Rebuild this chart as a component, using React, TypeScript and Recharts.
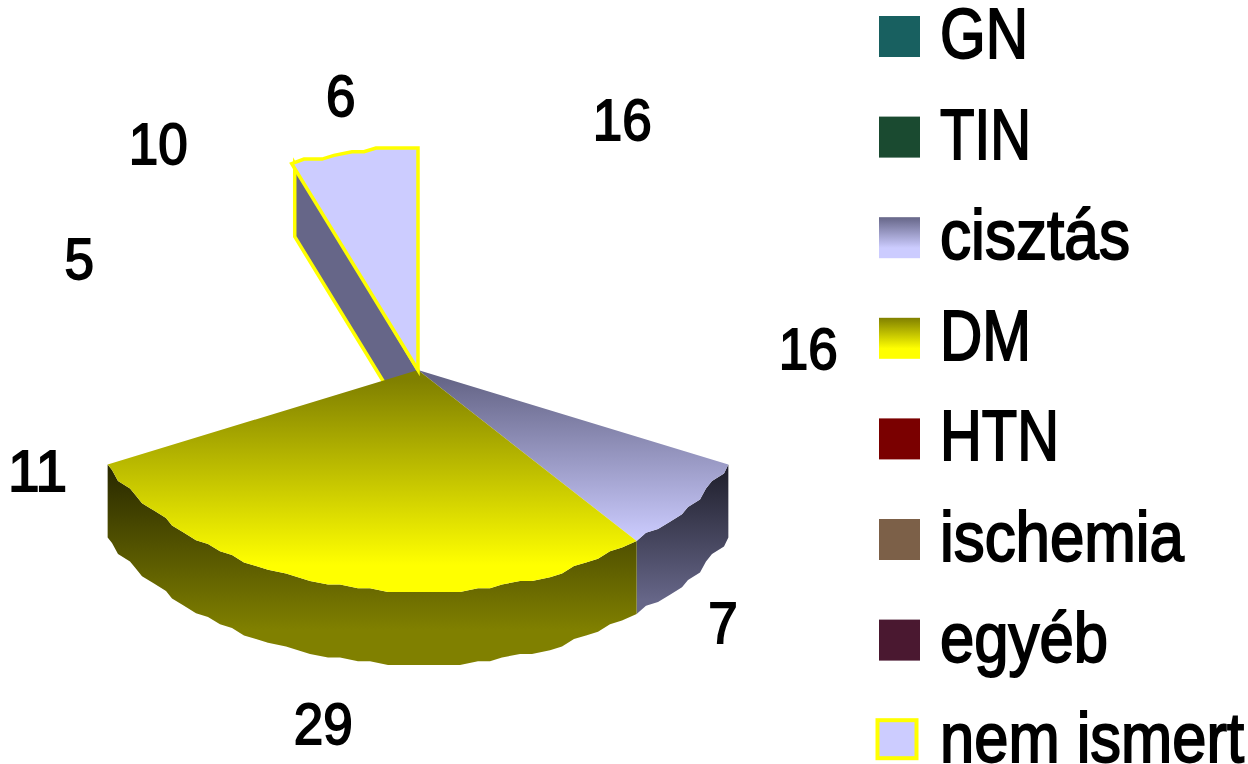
import { Legend, Pie, PieChart } from "recharts";

const categories = ["GN", "TIN", "cisztás", "DM", "HTN", "ischemia", "egyéb", "nem ismert"];
const shares = [16, 16, 7, 29, 11, 5, 10, 6];
const swatchFills = [
  "#186060",
  "#1a4a30",
  "url(#cystSwatch)",
  "url(#dmSwatch)",
  "#7a0000",
  "#7c6048",
  "#4a1830",
  "#ccccff",
];
// Only these three sectors are painted; the others keep just their label and legend row.
const paintedSlices = ["cisztás", "DM", "nem ismert"];
// Where each value label sits relative to the rim point of its sector.
const labelNudges = [
  [39, -54],
  [48, -6],
  [34, 118],
  [-20, 138],
  [-39, 81],
  [-24, -22],
  [-41, -54],
  [-13, -55],
];
// Rendered widths of the condensed legend text.
const legendTextWidths = [88, 91, 190, 91, 119, 244, 168, 304];

const data = categories.map((name, i) => ({ name, value: shares[i] }));

const CENTER_X = 418;
const CENTER_Y = 370;
const RADIUS = 343;
const SQUASH = 222 / 343;
const DEPTH = 73;
const GRID_X = 6;
const GRID_Y = 3.7;
const FONT = '"Liberation Sans", Arial, sans-serif';

const rimAt = (deg: number) => {
  const rad = ((90 - deg) * Math.PI) / 180;
  return [CENTER_X + RADIUS * Math.cos(rad), CENTER_Y - RADIUS * SQUASH * Math.sin(rad)];
};

// The outer edge is snapped to a coarse grid, which gives it its stepped outline.
const rimPoints = (from: number, to: number) => {
  const pts = [rimAt(from)];
  for (let d = from + 2.5; d < to - 1; d += 2.5) {
    const [x, y] = rimAt(d);
    const snapped = [
      CENTER_X + Math.round((x - CENTER_X) / GRID_X) * GRID_X,
      CENTER_Y + Math.round((y - CENTER_Y) / GRID_Y) * GRID_Y,
    ];
    const last = pts[pts.length - 1];
    if (snapped[0] !== last[0] || snapped[1] !== last[1]) pts.push(snapped);
  }
  pts.push(rimAt(to));
  return pts;
};

const toPoints = (pts: number[][]) => pts.map((p) => `${p[0]},${p[1]}`).join(" ");

const sweep = (props: any) => {
  const a = 90 - props.startAngle;
  const b = 90 - props.endAngle;
  return [Math.min(a, b), Math.max(a, b)];
};

// The cut face of the unknown slice sits behind the DM top, so it gets its own layer.
const CutFace = (props: any) => {
  if (props.name !== "nem ismert") return <g />;
  const [from] = sweep(props);
  const corner = rimAt(from);
  return (
    <polygon
      points={toPoints([
        [corner[0] + 3, corner[1]],
        [corner[0] + 3, corner[1] + DEPTH],
        [CENTER_X + 3, CENTER_Y + DEPTH],
        [CENTER_X, CENTER_Y],
      ])}
      fill="#666688"
      stroke="#ffff00"
      strokeWidth={3.5}
    />
  );
};

const Slice = (props: any) => {
  if (!paintedSlices.includes(props.name)) return <g />;
  const [from, to] = sweep(props);
  const rim = rimPoints(from, to);
  const top = toPoints([[CENTER_X, CENTER_Y], ...rim]);

  if (props.name === "nem ismert") {
    return <polygon points={top} fill="#ccccff" stroke="#ffff00" strokeWidth={3.5} />;
  }

  const wall = toPoints([
    ...rim,
    ...[...rim].reverse().map((p) => [p[0], p[1] + DEPTH]),
  ]);
  const isDm = props.name === "DM";
  return (
    <g>
      <polygon points={wall} fill={isDm ? "url(#dmWall)" : "url(#cystWall)"} />
      <polygon points={top} fill={isDm ? "url(#dmTop)" : "url(#cystTop)"} />
    </g>
  );
};

const renderValue = (props: any) => {
  const [x, y] = rimAt(90 - props.midAngle);
  const [dx, dy] = labelNudges[props.index];
  return (
    <text
      x={x + dx}
      y={y + dy + 19}
      textAnchor="middle"
      fontFamily={FONT}
      fontSize={58}
      textLength={String(props.value).length * 29.5}
      lengthAdjust="spacingAndGlyphs"
      fill="#000"
      stroke="#000"
      strokeWidth={1.8}
    >
      {props.value}
    </text>
  );
};

const legendRows = () => (
  <svg width={1248} height={764} style={{ display: "block" }}>
    {categories.map((name, i) => {
      const y = 16 + i * 100.6;
      const boxed = name === "nem ismert";
      return (
        <g key={name}>
          <rect
            x={boxed ? 877.5 : 879}
            y={y}
            width={boxed ? 39 : 41}
            height={boxed ? 38 : 41}
            fill={swatchFills[i]}
            stroke={boxed ? "#ffff00" : "none"}
            strokeWidth={boxed ? 4 : 0}
          />
          <text
            x={940}
            y={y + 42}
            fontFamily={FONT}
            fontSize={70}
            textLength={legendTextWidths[i]}
            lengthAdjust="spacingAndGlyphs"
            fill="#000"
            stroke="#000"
            strokeWidth={1.9}
          >
            {name}
          </text>
        </g>
      );
    })}
  </svg>
);

export default function App() {
  return (
    <div style={{ position: "absolute", left: 0, top: 0, width: 1248, height: 764, background: "#fff" }}>
      <PieChart width={1248} height={764} margin={{ top: 0, right: 0, bottom: 0, left: 0 }}>
        <defs>
          <linearGradient id="dmTop" gradientUnits="userSpaceOnUse" x1="0" y1="380" x2="0" y2="565">
            <stop offset="0" stopColor="#808000" />
            <stop offset="1" stopColor="#ffff00" />
          </linearGradient>
          <linearGradient id="dmWall" gradientUnits="userSpaceOnUse" x1="0" y1="463" x2="0" y2="630">
            <stop offset="0" stopColor="#262600" />
            <stop offset="1" stopColor="#808000" />
          </linearGradient>
          <linearGradient id="cystTop" gradientUnits="userSpaceOnUse" x1="0" y1="380" x2="0" y2="540">
            <stop offset="0" stopColor="#666688" />
            <stop offset="1" stopColor="#ccccff" />
          </linearGradient>
          <linearGradient id="cystWall" gradientUnits="userSpaceOnUse" x1="0" y1="463" x2="0" y2="600">
            <stop offset="0" stopColor="#1c1c28" />
            <stop offset="1" stopColor="#666688" />
          </linearGradient>
          <linearGradient id="cystSwatch" x1="0" y1="0" x2="0" y2="1">
            <stop offset="0" stopColor="#666688" />
            <stop offset="0.75" stopColor="#ccccff" />
          </linearGradient>
          <linearGradient id="dmSwatch" x1="0" y1="0" x2="0" y2="1">
            <stop offset="0" stopColor="#808000" />
            <stop offset="0.75" stopColor="#ffff00" />
          </linearGradient>
        </defs>
        <Pie
          data={data}
          dataKey="value"
          nameKey="name"
          cx={CENTER_X}
          cy={CENTER_Y}
          outerRadius={RADIUS}
          startAngle={90}
          endAngle={-270}
          legendType="none"
          shape={CutFace}
          isAnimationActive={false}
        />
        <Pie
          data={data}
          dataKey="value"
          nameKey="name"
          cx={CENTER_X}
          cy={CENTER_Y}
          outerRadius={RADIUS}
          startAngle={90}
          endAngle={-270}
          shape={Slice}
          label={renderValue}
          labelLine={false}
          isAnimationActive={false}
        />
        <Legend
          content={legendRows}
          width={1248}
          height={764}
          wrapperStyle={{ left: 0, top: 0, pointerEvents: "none" }}
        />
      </PieChart>
    </div>
  );
}
